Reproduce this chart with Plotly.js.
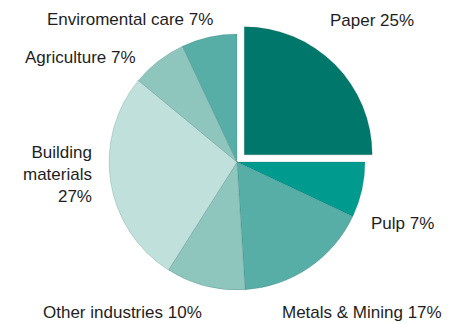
<!DOCTYPE html>
<html>
<head>
<meta charset="utf-8">
<script src="https://cdn.plot.ly/plotly-3.0.1.min.js"></script>
<style>
  html, body { margin: 0; padding: 0; background: #ffffff; }
  #chart { width: 460px; height: 324px; }
</style>
</head>
<body>
<div id="chart"></div>
<script>
// Data
const categories = ["Paper", "Pulp", "Metals & Mining", "Other industries", "Building materials", "Agriculture", "Enviromental care"];
const shares = [25, 7, 17, 10, 27, 7, 7];
const labelText = ["Paper", "Pulp", "Metals & Mining", "Other industries", "Building<br>materials<br>", "Agriculture", "Enviromental care"];
const sliceColors = ["#00776b", "#009b8f", "#57aea7", "#8ec6be", "#c0e0db", "#8ec6be", "#57aea7"];
const pulls = [0.08, 0, 0, 0, 0, 0, 0];

// Label placement (paper fractions)
const labelPos = [
  {x: 0.713, y: 0.938, xa: "left",  al: "left"},
  {x: 0.802, y: 0.309, xa: "left",  al: "left"},
  {x: 0.609, y: 0.037, xa: "left",  al: "left"},
  {x: 0.089, y: 0.037, xa: "left",  al: "left"},
  {x: 0.204, y: 0.460, xa: "right", al: "right"},
  {x: 0.050, y: 0.821, xa: "left",  al: "left"},
  {x: 0.467, y: 0.941, xa: "right", al: "right"}
];

const trace = {
  type: "pie",
  labels: categories,
  values: shares,
  sort: false,
  direction: "clockwise",
  rotation: 0,
  pull: pulls,
  textinfo: "none",
  hoverinfo: "label+percent",
  showlegend: false,
  marker: { colors: sliceColors, line: { color: "rgba(40,90,85,0.35)", width: 0.6 } },
  domain: { x: [0.2148, 0.8157], y: [0.0735, 0.9265] }
};

const annotations = categories.map((c, i) => ({
  xref: "paper", yref: "paper",
  x: labelPos[i].x, y: labelPos[i].y,
  xanchor: labelPos[i].xa, yanchor: "middle",
  align: labelPos[i].al,
  showarrow: false,
  text: labelText[i] + (labelText[i].endsWith("<br>") ? "" : " ") + shares[i] + "%",
  font: { family: "Liberation Sans, Arial, sans-serif", size: 17, color: "#1e1e1e" }
}));

const layout = {
  width: 460, height: 324,
  margin: { l: 0, r: 0, t: 0, b: 0 },
  paper_bgcolor: "#ffffff",
  plot_bgcolor: "#ffffff",
  annotations: annotations
};

Plotly.newPlot("chart", [trace], layout, { displayModeBar: false, staticPlot: true });
</script>
</body>
</html>
